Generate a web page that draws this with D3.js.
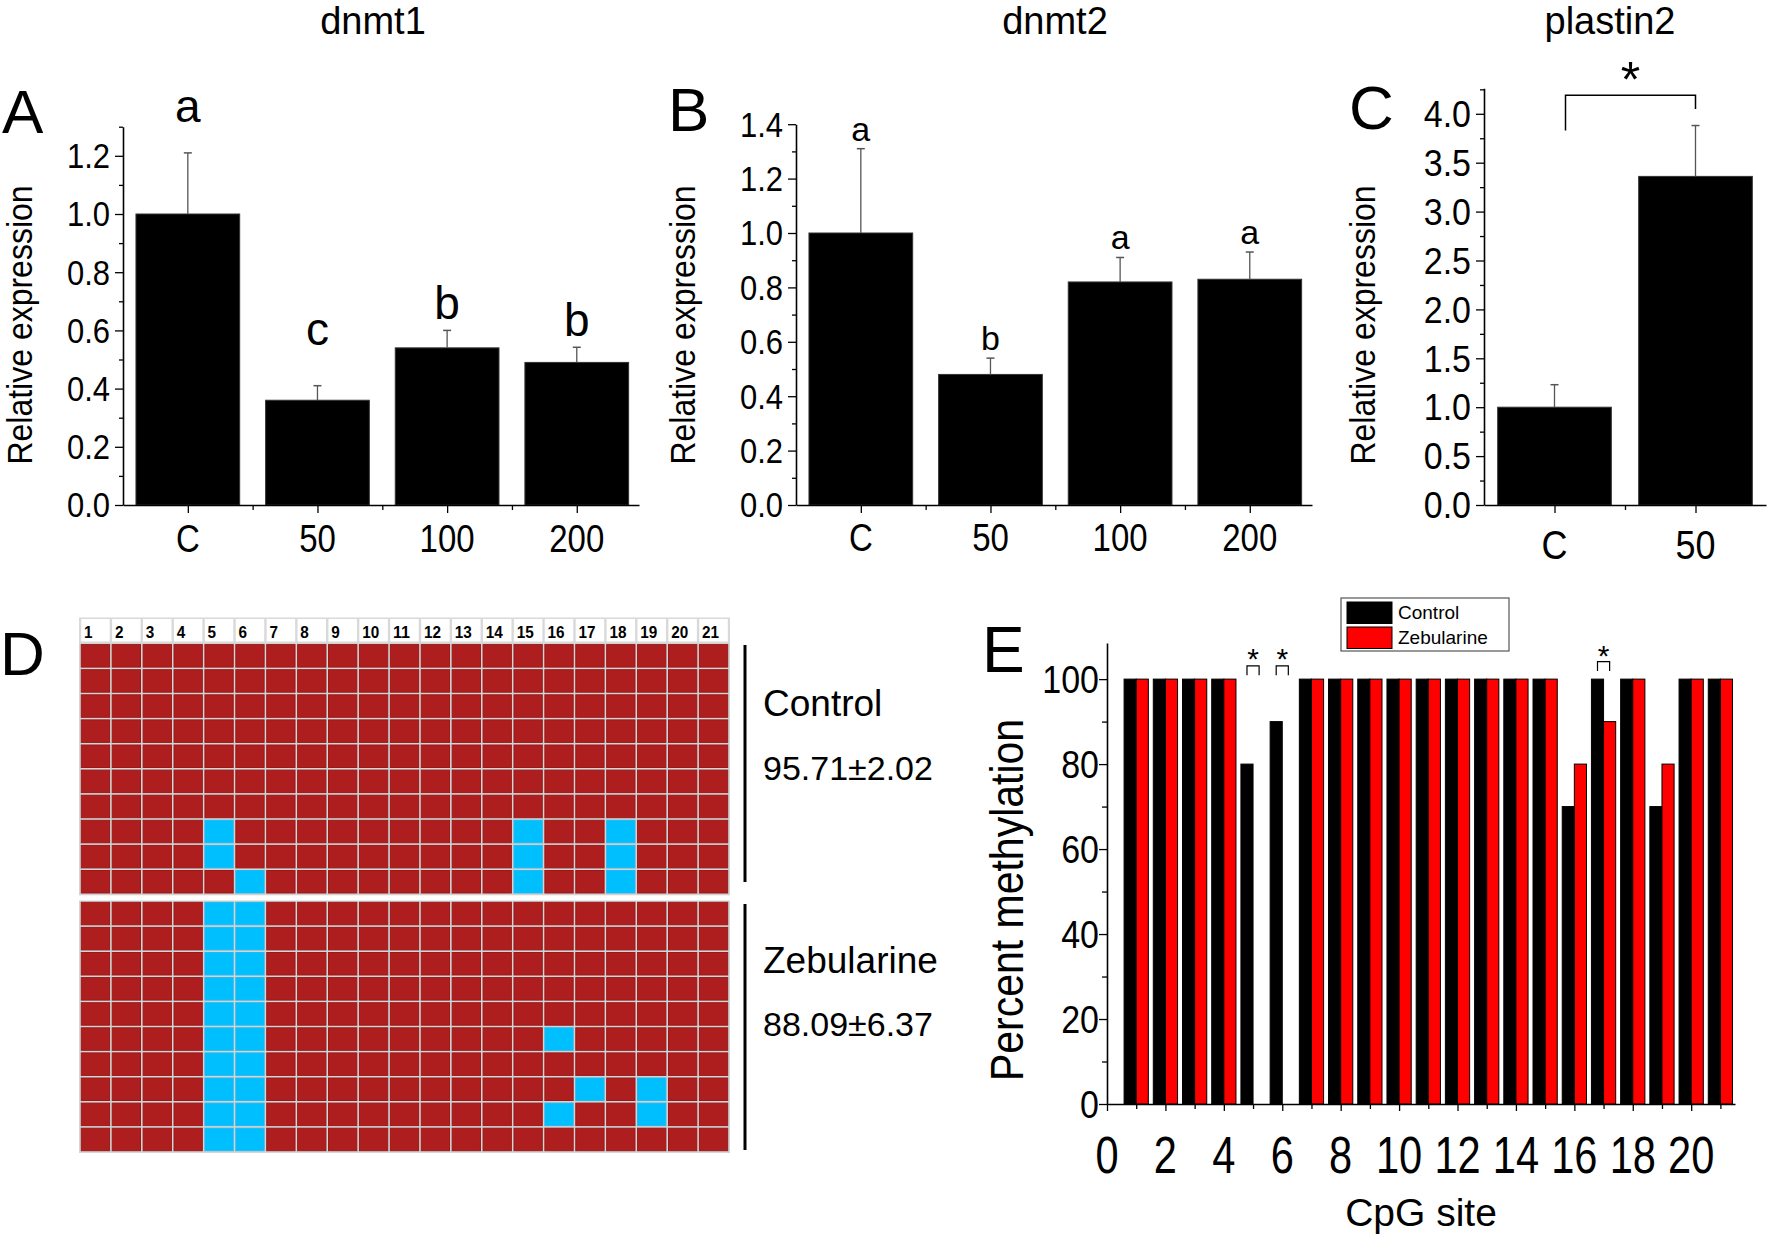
<!DOCTYPE html>
<html><head><meta charset="utf-8">
<script src="https://cdn.jsdelivr.net/npm/d3@7/dist/d3.min.js"></script>
<style>
body{margin:0;background:#fff}
svg{display:block}
text{font-family:"Liberation Sans",Arial,sans-serif;fill:#000}
</style>
</head><body>
<svg id="fig" width="1770" height="1237"></svg>
<script>
// ---------------- DATA ----------------
const groupCats = ["C", "50", "100", "200"];
const dnmt1Mean = [1.00, 0.36, 0.54, 0.49];
const dnmt1Err = [0.21, 0.05, 0.06, 0.052];
const dnmt1Letters = ["a", "c", "b", "b"];
const dnmt2Mean = [1.00, 0.48, 0.82, 0.83];
const dnmt2Err = [0.31, 0.06, 0.09, 0.10];
const dnmt2Letters = ["a", "b", "a", "a"];
const plastinCats = ["C", "50"];
const plastinMean = [1.00, 3.36];
const plastinErr = [0.23, 0.52];
const cpgSites = [1,2,3,4,5,6,7,8,9,10,11,12,13,14,15,16,17,18,19,20,21];
const controlPct = [100,100,100,100,80,90,100,100,100,100,100,100,100,100,100,70,100,100,70,100,100];
const zebularinePct = [100,100,100,100,0,0,100,100,100,100,100,100,100,100,100,80,90,100,80,100,100];
const sigSites = [5, 6, 17];
const seriesNames = ["Control", "Zebularine"];
const eXTicks = [0, 2, 4, 6, 8, 10, 12, 14, 16, 18, 20];
const eYTicks = [0, 20, 40, 60, 80, 100];
// unmethylated CpG sites per clone (rows of the methylation grid)
const controlUnmeth = [[],[],[],[],[],[],[],[5,15,18],[5,15,18],[6,15,18]];
const zebularineUnmeth = [[5,6],[5,6],[5,6],[5,6],[5,6],[5,6,16],[5,6],[5,6,17,19],[5,6,16,19],[5,6]];
const groupSummary = ["95.71±2.02", "88.09±6.37"];

const svg = d3.select("#fig");
svg.append("rect").attr("width",1770).attr("height",1237).attr("fill","#fff");

function txt(g, s, x, y, size, anchor, sx, sy, rot) {
  return g.append("text").attr("x", 0).attr("y", 0).attr("font-size", size)
    .attr("text-anchor", anchor || "start")
    .attr("transform", `translate(${x},${y})${rot ? " rotate(" + rot + ")" : ""} scale(${sx || 1},${sy || 1})`)
    .text(s);
}
function styleAxis(g) {
  g.selectAll(".domain").attr("stroke", "#000").attr("stroke-width", 1.6);
  g.selectAll(".tick line").attr("stroke", "#000").attr("stroke-width", 1.3);
  g.selectAll(".tick text").remove();
}

// -------------- bar panels A,B,C --------------
function barPanel(o) {
  const g = svg.append("g");
  const x = d3.scaleLinear().domain([0.5, o.xMax]).range([o.axisX, o.axisEnd]);
  const y = d3.scaleLinear().domain([0, o.yMax]).range([o.base, o.base - o.yMax * o.pxPerUnit]);
  const n = o.cats.length;
  const idx = d3.range(1, n + 1);
  g.selectAll("rect.bar").data(o.means).join("rect")
    .attr("x", (d, i) => x(i + 1 - o.barW / 2))
    .attr("width", x(1 + o.barW / 2) - x(1 - o.barW / 2))
    .attr("y", d => y(d)).attr("height", d => y(0) - y(d))
    .attr("fill", "#000").attr("stroke", "#333").attr("stroke-width", 1);
  g.selectAll("line.err").data(o.means).join("line")
    .attr("x1", (d, i) => x(i + 1)).attr("x2", (d, i) => x(i + 1))
    .attr("y1", d => y(d)).attr("y2", (d, i) => y(d + o.errs[i]))
    .attr("stroke", "#555").attr("stroke-width", 1.3);
  g.selectAll("line.cap").data(o.means).join("line")
    .attr("x1", (d, i) => x(i + 1) - 4).attr("x2", (d, i) => x(i + 1) + 4)
    .attr("y1", (d, i) => y(d + o.errs[i])).attr("y2", (d, i) => y(d + o.errs[i]))
    .attr("stroke", "#555").attr("stroke-width", 1.5);
  if (o.letters) {
    o.letters.forEach((l, i) => {
      txt(g, l, x(i + 1), y(o.means[i] + o.errs[i]) - o.letGap[i], o.letSize, "middle");
    });
  }
  const ya = g.append("g").attr("transform", `translate(${o.axisX},0)`)
    .call(d3.axisLeft(y).tickValues(o.yMajor).tickSize(8).tickSizeOuter(0));
  const ym = g.append("g").attr("transform", `translate(${o.axisX},0)`)
    .call(d3.axisLeft(y).tickValues(o.yMinor).tickSize(4).tickSizeOuter(0));
  ym.select(".domain").remove();
  o.yMajor.forEach(v => txt(g, d3.format(".1f")(v), o.axisX - 13, y(v) + o.yTickSize * 0.36 * o.yTickSY,
    o.yTickSize, "end", o.yTickSX, o.yTickSY));
  const xa = g.append("g").attr("transform", `translate(0,${o.base})`)
    .call(d3.axisBottom(x).tickValues(idx).tickSize(8).tickSizeOuter(0));
  const xm = g.append("g").attr("transform", `translate(0,${o.base})`)
    .call(d3.axisBottom(x).tickValues(idx.slice(0, n - 1).map(i => i + 0.5)).tickSize(5).tickSizeOuter(0));
  xm.select(".domain").remove();
  styleAxis(g);
  idx.forEach(i => txt(g, o.cats[i - 1], x(i), o.base + o.xLabDy, o.xTickSize, "middle", 1, o.xTickSY));
  txt(g, "Relative expression", o.yLabX, o.yLabY, o.yLabSize, "middle", 1, 1.08, -90);
  txt(g, o.title, o.titleX, o.titleY, 38, "middle");
  txt(g, o.panel, o.panelX, o.panelY, 62, "start");
  return { g, x, y };
}

barPanel({
  cats: groupCats, means: dnmt1Mean, errs: dnmt1Err, letters: dnmt1Letters,
  axisX: 123, axisEnd: 639, xMax: 4.48, base: 505, pxPerUnit: 291, yMax: 1.3,
  yMajor: [0, 0.2, 0.4, 0.6, 0.8, 1.0, 1.2], yMinor: [0.1, 0.3, 0.5, 0.7, 0.9, 1.1, 1.3],
  barW: 0.8, letGap: [31, 41, 11, 11], letSize: 46,
  yTickSize: 31, yTickSX: 1, yTickSY: 1.12, xTickSize: 33, xTickSY: 1.15, xLabDy: 47,
  yLabSize: 32, yLabX: 32, yLabY: 325, title: "dnmt1", titleX: 373, titleY: 34,
  panel: "A", panelX: 2, panelY: 133
});
barPanel({
  cats: groupCats, means: dnmt2Mean, errs: dnmt2Err, letters: dnmt2Letters,
  axisX: 796, axisEnd: 1312, xMax: 4.48, base: 505, pxPerUnit: 272, yMax: 1.4,
  yMajor: [0, 0.2, 0.4, 0.6, 0.8, 1.0, 1.2, 1.4], yMinor: [0.1, 0.3, 0.5, 0.7, 0.9, 1.1, 1.3],
  barW: 0.8, letGap: [8, 8, 8, 8], letSize: 34,
  yTickSize: 31, yTickSX: 1, yTickSY: 1.12, xTickSize: 33, xTickSY: 1.15, xLabDy: 46,
  yLabSize: 32, yLabX: 695, yLabY: 325, title: "dnmt2", titleX: 1055, titleY: 34,
  panel: "B", panelX: 668, panelY: 131
});
const pc = barPanel({
  cats: plastinCats, means: plastinMean, errs: plastinErr, letters: null,
  axisX: 1484, axisEnd: 1766, xMax: 2.5, base: 505, pxPerUnit: 97.8, yMax: 4.26,
  yMajor: [0, 0.5, 1, 1.5, 2, 2.5, 3, 3.5, 4], yMinor: [0.25, 0.75, 1.25, 1.75, 2.25, 2.75, 3.25, 3.75, 4.25],
  barW: 0.806, letGap: [], letSize: 34,
  yTickSize: 34, yTickSX: 1, yTickSY: 1.08, xTickSize: 36, xTickSY: 1.12, xLabDy: 54,
  yLabSize: 32, yLabX: 1375, yLabY: 325, title: "plastin2", titleX: 1610, titleY: 34,
  panel: "C", panelX: 1349, panelY: 129
});
{
  const g = pc.g, x = pc.x, y = pc.y;
  const xl = x(1) + 11, xr = x(2);
  g.append("path").attr("d", `M${xl},${y(3.83)}V${y(4.19)}H${xr}V${y(4.05)}`)
    .attr("fill", "none").attr("stroke", "#000").attr("stroke-width", 1.5);
  txt(g, "*", (xl + xr) / 2, y(4.40) + 22, 50, "middle");
}

// -------------- panel D (methylation grid) --------------
{
  const g = svg.append("g");
  const col = d3.scaleBand().domain(cpgSites).range([80, 729]);
  const rowH = 25.1;
  const blocks = [
    { top: 643.3, rows: controlUnmeth },
    { top: 901, rows: zebularineUnmeth }
  ];
  g.append("rect").attr("x", 79).attr("y", 617.5).attr("width", 651).attr("height", 26.5).attr("fill", "#d9d9d9");
  g.selectAll("rect.hd").data(cpgSites).join("rect")
    .attr("x", d => col(d) + 1.2).attr("y", 619).attr("width", col.bandwidth() - 2.4).attr("height", 22.5)
    .attr("fill", "#fff");
  g.selectAll("text.hd").data(cpgSites).join("text")
    .attr("x", d => col(d) + 4).attr("y", 638).attr("font-size", 16).attr("font-weight", "bold")
    .attr("font-family", '"DejaVu Sans Mono","Liberation Mono",monospace')
    .attr("textLength", d => d > 9 ? 17 : 8.5).attr("lengthAdjust", "spacingAndGlyphs")
    .text(d => d);
  blocks.forEach(b => {
    g.append("rect").attr("x", 79).attr("y", b.top - 0.5).attr("width", 651).attr("height", rowH * 10 + 1.5).attr("fill", "#d4d4d4");
    b.rows.forEach((un, r) => {
      g.selectAll(null).data(cpgSites).join("rect")
        .attr("x", d => col(d) + 1.3).attr("y", b.top + r * rowH + 1.3)
        .attr("width", col.bandwidth() - 2.6).attr("height", rowH - 2.6)
        .attr("fill", d => un.includes(d) ? "#00BFFF" : "#AF1E1E")
        .attr("stroke", d => un.includes(d) ? "#22b8f0" : "#9a1818").attr("stroke-width", 1);
    });
  });
  g.append("line").attr("x1", 745).attr("x2", 745).attr("y1", 645).attr("y2", 882).attr("stroke", "#000").attr("stroke-width", 3);
  g.append("line").attr("x1", 745).attr("x2", 745).attr("y1", 904).attr("y2", 1150).attr("stroke", "#000").attr("stroke-width", 3);
  txt(g, seriesNames[0], 763, 716, 37);
  txt(g, groupSummary[0], 763, 780, 34);
  txt(g, seriesNames[1], 763, 973, 37);
  txt(g, groupSummary[1], 763, 1036, 34);
  txt(g, "D", 0, 675, 62);
}

// -------------- panel E --------------
{
  const g = svg.append("g");
  const x = d3.scaleLinear().domain([0, 21.5]).range([1107, 1735]);
  const y = d3.scaleLinear().domain([0, 108.5]).range([1104, 643]);
  const bw = 0.415;
  g.selectAll("rect.c").data(cpgSites).join("rect")
    .attr("x", (d) => x(d - bw)).attr("width", x(bw) - x(0))
    .attr("y", (d, i) => y(controlPct[i])).attr("height", (d, i) => y(0) - y(controlPct[i]))
    .attr("fill", "#000").attr("stroke", "#000").attr("stroke-width", 1);
  g.selectAll("rect.z").data(cpgSites.filter((d, i) => zebularinePct[i] > 0)).join("rect")
    .attr("x", (d) => x(d)).attr("width", x(bw) - x(0))
    .attr("y", d => y(zebularinePct[d - 1])).attr("height", d => y(0) - y(zebularinePct[d - 1]))
    .attr("fill", "#FF0000").attr("stroke", "#000").attr("stroke-width", 1);
  const sigTop = { 5: [103.1, 100.9, 106.4], 6: [103.1, 100.9, 106.4], 17: [104.1, 101.9, 107.0] };
  sigSites.forEach(s => {
    const [t, l, st] = sigTop[s];
    const a = x(s - bw / 2), b = x(s + bw / 2);
    g.append("path").attr("d", `M${a},${y(l)}V${y(t)}H${b}V${y(l)}`)
      .attr("fill", "none").attr("stroke", "#000").attr("stroke-width", 1.2);
    txt(g, "*", (a + b) / 2, y(st) + 17, 30, "middle");
  });
  g.append("g").attr("transform", `translate(${x(0)},0)`)
    .call(d3.axisLeft(y).tickValues(eYTicks).tickSize(8).tickSizeOuter(0));
  const ym = g.append("g").attr("transform", `translate(${x(0)},0)`)
    .call(d3.axisLeft(y).tickValues([10, 30, 50, 70, 90]).tickSize(5).tickSizeOuter(0));
  ym.select(".domain").remove();
  g.append("g").attr("transform", `translate(0,${y(0)})`)
    .call(d3.axisBottom(x).tickValues(eXTicks).tickSize(7).tickSizeOuter(0));
  const xm = g.append("g").attr("transform", `translate(0,${y(0)})`)
    .call(d3.axisBottom(x).tickValues([1, 3, 5, 7, 9, 11, 13, 15, 17, 19, 21]).tickSize(5).tickSizeOuter(0));
  xm.select(".domain").remove();
  styleAxis(g);
  eYTicks.forEach(v => txt(g, String(v), x(0) - 8, y(v) + 13.5, 34, "end", 1, 1.12));
  eXTicks.forEach(v => txt(g, String(v), x(v), 1173, 52, "middle", 0.8, 1));
  txt(g, "Percent methylation", 1023, 900, 41, "middle", 1, 1.12, -90);
  txt(g, "CpG site", 1421, 1226, 39, "middle");
  txt(g, "E", 982, 672, 64);
  const lg = g.append("g");
  lg.append("rect").attr("x", 1341).attr("y", 598).attr("width", 168).attr("height", 53)
    .attr("fill", "#fff").attr("stroke", "#555").attr("stroke-width", 1.2);
  const sw = [{ c: "#000", y: 602 }, { c: "#FF0000", y: 627 }];
  sw.forEach((s, i) => {
    lg.append("rect").attr("x", 1347).attr("y", s.y).attr("width", 45).attr("height", 21.5)
      .attr("fill", s.c).attr("stroke", "#000").attr("stroke-width", 1);
    txt(lg, seriesNames[i], 1398, s.y + 17, 19);
  });
}
</script>
</body></html>
